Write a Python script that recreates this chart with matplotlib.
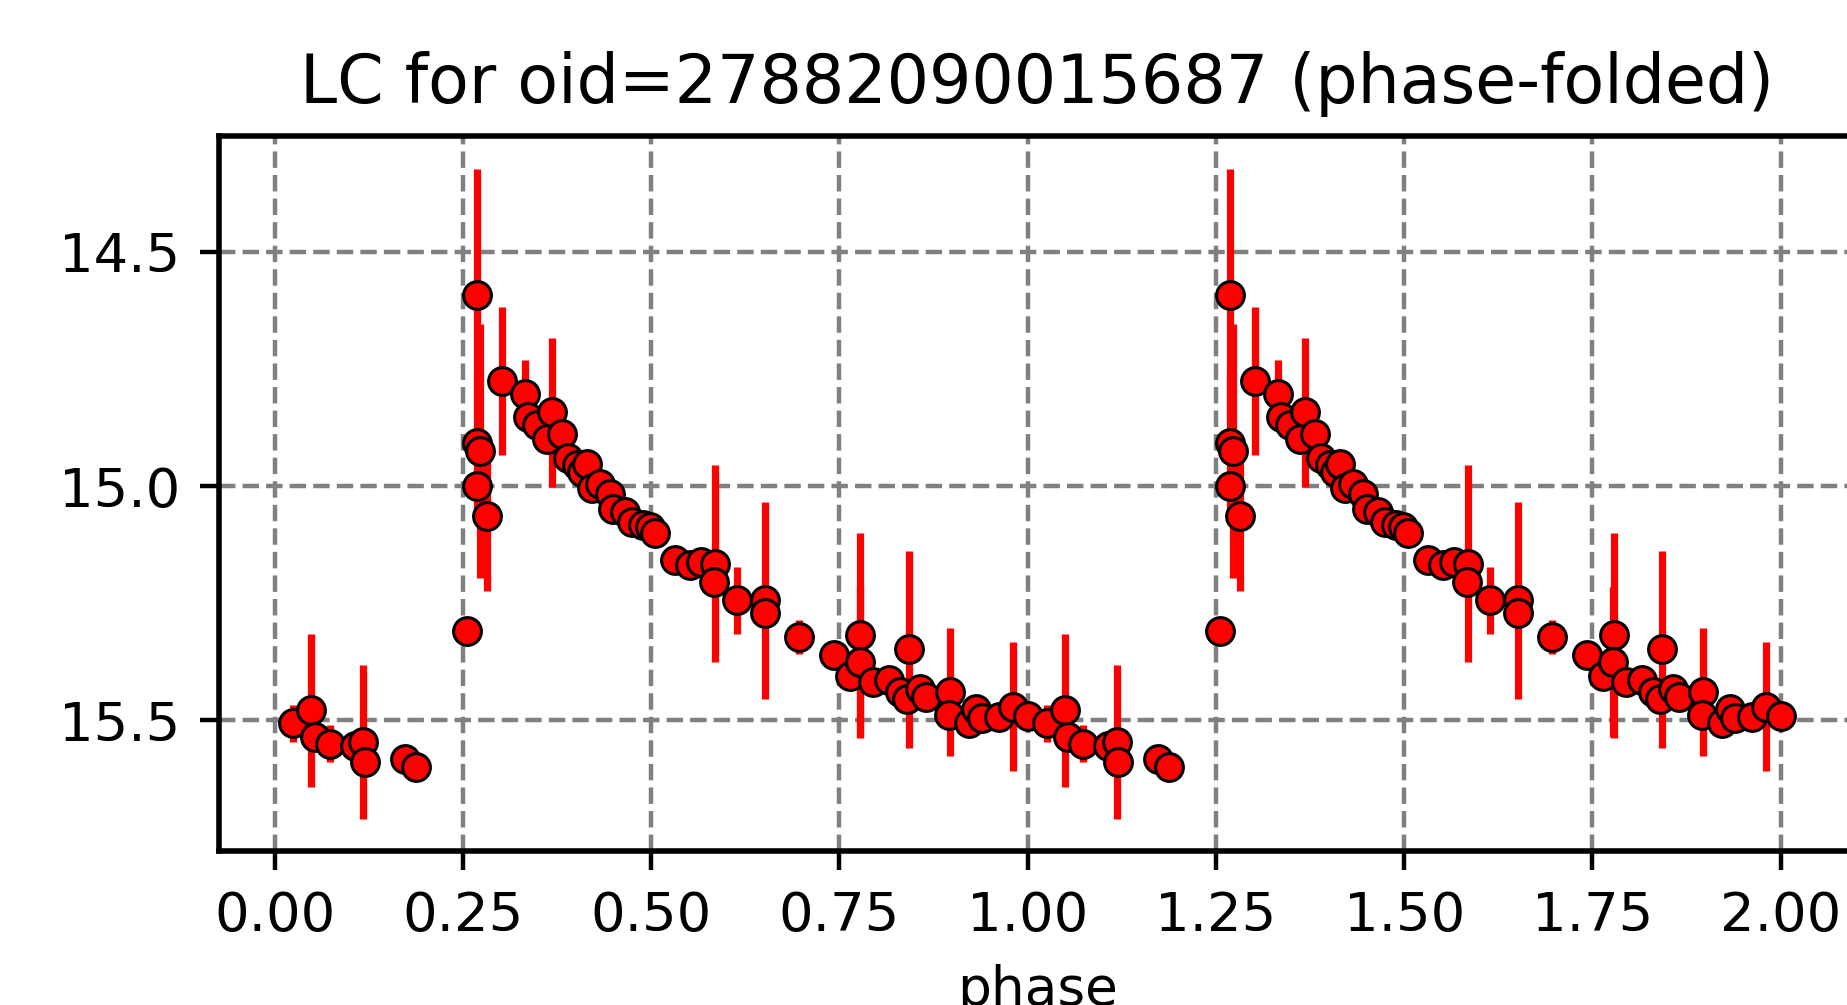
import matplotlib
matplotlib.use("Agg")
import matplotlib.pyplot as plt
import numpy as np

# phase-folded light curve (phase in [0, 1), magnitude, error)
phase = [0.025, 0.049, 0.054, 0.074, 0.107, 0.118, 0.120, 0.173, 0.188,
         0.255, 0.269, 0.269, 0.273, 0.269, 0.2826, 0.3017, 0.333, 0.337,
         0.348, 0.3615, 0.368, 0.381, 0.390, 0.401, 0.408, 0.4146, 0.421,
         0.432, 0.4455, 0.450, 0.4655, 0.474, 0.489, 0.498, 0.505, 0.532,
         0.552, 0.566, 0.585, 0.584, 0.614, 0.651, 0.651, 0.696, 0.743,
         0.778, 0.775, 0.764, 0.777, 0.794, 0.816, 0.831, 0.842, 0.840,
         0.857, 0.865, 0.897, 0.896, 0.922, 0.932, 0.939, 0.962, 0.981,
         1.000]
mag = [15.507, 15.479, 15.536, 15.550, 15.555, 15.546, 15.590, 15.583, 15.600,
       15.309, 14.593, 14.909, 14.926, 14.999, 15.064, 14.775, 14.804, 14.852,
       14.870, 14.900, 14.843, 14.888, 14.941, 14.956, 14.970, 14.952, 15.005,
       14.995, 15.016, 15.048, 15.055, 15.076, 15.084, 15.087, 15.101, 15.159,
       15.169, 15.162, 15.166, 15.205, 15.244, 15.244, 15.272, 15.322, 15.361,
       15.319, 15.390, 15.406, 15.375, 15.418, 15.415, 15.440, 15.349, 15.455,
       15.433, 15.450, 15.440, 15.488, 15.507, 15.476, 15.496, 15.494, 15.471,
       15.491]
mag_err = [0.040, 0.164, 0.020, 0.040, 0.020, 0.164, 0.020, 0.020, 0.020,
           0.020, 0.270, 0.150, 0.271, 0.020, 0.160, 0.158, 0.073, 0.020,
           0.020, 0.020, 0.159, 0.020, 0.020, 0.020, 0.020, 0.020, 0.020,
           0.020, 0.020, 0.020, 0.020, 0.020, 0.020, 0.020, 0.020, 0.020,
           0.020, 0.020, 0.210, 0.020, 0.072, 0.210, 0.020, 0.037, 0.020,
           0.219, 0.020, 0.020, 0.160, 0.020, 0.020, 0.020, 0.210, 0.020,
           0.020, 0.020, 0.136, 0.020, 0.020, 0.020, 0.020, 0.020, 0.137,
           0.020]

x_ticks = [0.00, 0.25, 0.50, 0.75, 1.00, 1.25, 1.50, 1.75, 2.00]
y_ticks = [14.5, 15.0, 15.5]
oid = "27882090015687"

# two periods: phase and phase + 1
x = np.concatenate([np.array(phase), np.array(phase) + 1])
y = np.concatenate([mag, mag])
yerr = np.concatenate([mag_err, mag_err])

fig = plt.figure(figsize=(1847 / 400, 1005 / 400), dpi=400)
ax = fig.add_axes([0.1186, 0.1532, 0.8858, 0.711])

ax.errorbar(x, y, yerr=yerr, fmt='o', color='red', ecolor='red',
            elinewidth=1.3, markersize=5, markeredgecolor='black',
            markeredgewidth=0.55)

ax.invert_yaxis()
ax.set_xticks(x_ticks)
ax.set_yticks(y_ticks)
ax.tick_params(labelsize=9.8)
for s in ax.spines.values():
    s.set_linewidth(1.0)
ax.grid(True, linestyle='--', color='gray', linewidth=0.8)
ax.set_xlabel('phase', fontsize=9.6)
ax.set_title(f'LC for oid={oid} (phase-folded)', fontsize=12)

fig.savefig('out.png', dpi=400)
